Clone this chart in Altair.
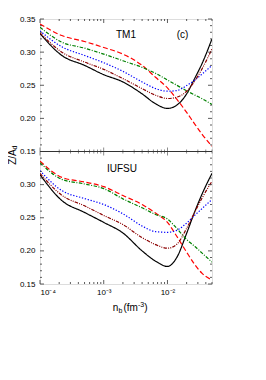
import altair as alt
import pandas as pd

# ---- data ----
n_b = [1e-4, 2.2e-4, 5e-4, 1e-3, 2e-3, 4e-3, 6.5e-3, 1e-2, 1.4e-2, 2e-2, 2.7e-2, 3.5e-2, 5e-2]

tm1_solid = [0.328, 0.295, 0.280, 0.266, 0.255, 0.237, 0.222, 0.215, 0.220, 0.237, 0.261, 0.283, 0.320]
tm1_dash = [0.3425, 0.325, 0.316, 0.307, 0.297, 0.280, 0.262, 0.246, 0.229, 0.209, 0.191, 0.176, 0.158]
tm1_dashdot = [0.3375, 0.315, 0.306, 0.297, 0.287, 0.277, 0.268, 0.258, 0.250, 0.2416, 0.2351, 0.2297, 0.221]
tm1_dot = [0.332, 0.308, 0.295, 0.284, 0.271, 0.255, 0.245, 0.241, 0.242, 0.2495, 0.258, 0.267, 0.280]
tm1_dashdotdot = [0.329, 0.300, 0.285, 0.274, 0.260, 0.245, 0.235, 0.230, 0.232, 0.241, 0.257, 0.275, 0.305]

iufsu_solid = [0.315, 0.276, 0.258, 0.243, 0.227, 0.200, 0.1845, 0.1765, 0.190, 0.2265, 0.260, 0.286, 0.317]
iufsu_dash = [0.3355, 0.311, 0.304, 0.297, 0.2835, 0.270, 0.257, 0.243, 0.222, 0.198, 0.179, 0.166, 0.156]
iufsu_dashdot = [0.333, 0.308, 0.301, 0.294, 0.2785, 0.265, 0.255, 0.248, 0.234, 0.217, 0.2065, 0.1966, 0.183]
iufsu_dot = [0.321, 0.291, 0.279, 0.270, 0.256, 0.2375, 0.229, 0.228, 0.231, 0.242, 0.254, 0.264, 0.2776]
iufsu_dashdotdot = [0.317, 0.284, 0.268, 0.2535, 0.2397, 0.220, 0.2095, 0.204, 0.210, 0.234, 0.259, 0.280, 0.305]

variants = ["solid", "dash", "dashdot", "dot", "dashdotdot"]
colors = ["#000000", "#FF0000", "#008000", "#0000FF", "#8B0000"]
dashes = [[1, 0], [5, 2.5], [3.5, 1.5, 1, 1.5], [1.3, 1.7], [3.5, 1.2, 1, 1.2, 1, 1.2]]

panel_names = ["TM1", "IUFSU"]
panel_shift = [0.2, 0.0]   # top panel drawn in the upper half of a shared y scale
panel_series = [
    [tm1_solid, tm1_dash, tm1_dashdot, tm1_dot, tm1_dashdotdot],
    [iufsu_solid, iufsu_dash, iufsu_dashdot, iufsu_dot, iufsu_dashdotdot],
]

y_major = [0.15, 0.20, 0.25, 0.30, 0.35, 0.40, 0.45, 0.50, 0.55]
y_minor = [round(0.15 + 0.01 * i, 2) for i in range(41) if i % 5 != 0]
x_major = [1e-4, 1e-3, 1e-2]
x_minor = [k * 1e-4 for k in range(2, 10)] + [k * 1e-3 for k in range(2, 10)] + [k * 1e-2 for k in range(2, 6)]

rows = []
for name, shift, series in zip(panel_names, panel_shift, panel_series):
    for v, vals in zip(variants, series):
        for n, z in zip(n_b, vals):
            rows.append({"model": name, "variant": v, "n": n, "y": z + shift})
df = pd.DataFrame(rows)

W, H = 172, 265
FONT = "Liberation Sans"

xscale = alt.Scale(type="log", domain=[1e-4, 0.05], nice=False)
yscale = alt.Scale(domain=[0.15, 0.55], nice=False, zero=False)

xaxis = alt.Axis(values=x_major, title=None, ticks=False, tickSize=0, domain=False, grid=False,
                 labelFontSize=8, labelPadding=4, labelFont=FONT, labelColor="black", labelOverlap=False,
                 labelExpr="datum.value < 0.0005 ? '10\u207b\u2074' : (datum.value < 0.005 ? '10\u207b\u00b3' : '10\u207b\u00b2')")
yaxis = alt.Axis(values=y_major, title=None, ticks=False, tickSize=0, domain=False, grid=False,
                 labelFontSize=8, labelPadding=5, labelFont=FONT, labelColor="black", labelOverlap=False,
                 labelExpr="datum.value > 0.3499 ? format(datum.value - 0.2, '.2f') : format(datum.value, '.2f')")

X = lambda f: alt.X(f, scale=xscale, axis=xaxis)
Y = lambda f: alt.Y(f, scale=yscale, axis=yaxis)

lines = alt.Chart(df).mark_line(strokeWidth=1.2, interpolate="monotone", clip=True).encode(
    x=X("n:Q"), y=Y("y:Q"),
    color=alt.Color("variant:N", scale=alt.Scale(domain=variants, range=colors), legend=None),
    strokeDash=alt.StrokeDash("variant:N", scale=alt.Scale(domain=variants, range=dashes), legend=None),
    detail="model:N",
)

ym = pd.DataFrame({"y": y_major})
yn = pd.DataFrame({"y": y_minor})
xm = pd.DataFrame({"n": x_major})
xn = pd.DataFrame({"n": x_minor})
sep_df = pd.DataFrame({"y": [0.35]})
TC = "#333333"

def yticks(d, x0, x1):
    return alt.Chart(d).mark_rule(color=TC, strokeWidth=0.8).encode(y=Y("y:Q"), x=alt.value(x0), x2=alt.value(x1))

def xticks(d, y0, y1):
    return alt.Chart(d).mark_rule(color=TC, strokeWidth=0.8).encode(x=X("n:Q"), y=alt.value(y0), y2=alt.value(y1))

def midticks(d, size):
    mid = d.assign(y=0.35)
    return alt.Chart(mid).mark_tick(orient="vertical", size=size, thickness=0.8, color=TC).encode(
        x=X("n:Q"), y=Y("y:Q"))

sep = alt.Chart(sep_df).mark_rule(color=TC, strokeWidth=1).encode(
    y=Y("y:Q"), x=alt.value(0), x2=alt.value(W))

ticks = [
    yticks(ym, 0, 4), yticks(yn, 0, 2), yticks(ym, W - 4, W), yticks(yn, W - 2, W),
    xticks(xm, H, H - 4), xticks(xn, H, H - 2), xticks(xm, 0, 4), xticks(xn, 0, 2),
    midticks(xm, 8), midticks(xn, 4),
]

def label(txt, x, y, size=10, angle=0, align="center", baseline="middle"):
    kw = dict(fontSize=size, font=FONT, align=align, baseline=baseline, color="black")
    if angle:
        kw["angle"] = angle
    return alt.Chart(pd.DataFrame({"t": [txt]})).mark_text(**kw).encode(
        text="t:N", x=alt.value(x), y=alt.value(y))

texts = [
    label("TM1", 86, 15.5),
    label("(c)", 142.5, 15.5),
    label("IUFSU", 82, 150),
    label("Z/A", -27, 138, angle=270),
    label("d", -25, 128.5, size=7, angle=270),
    label("n", 72.7, 292, align="left", baseline="alphabetic"),
    label("b", 78.4, 294, size=7, align="left", baseline="alphabetic"),
    label("(fm", 83.5, 292, align="left", baseline="alphabetic"),
    label("-3", 98, 287.5, size=7, align="left", baseline="alphabetic"),
    label(")", 104.3, 292, align="left", baseline="alphabetic"),
]

chart = alt.layer(lines, sep, *ticks, *texts).properties(
    width=W, height=H,
    padding={"left": 32, "top": 11, "right": 30, "bottom": 60},
    autosize=alt.AutoSizeParams(type="none"),
).configure_view(stroke=TC, strokeWidth=1).configure_axis(labelOverlap=False).configure(font=FONT)

chart.save("out.html", embed_options={"renderer": "svg", "actions": False})
